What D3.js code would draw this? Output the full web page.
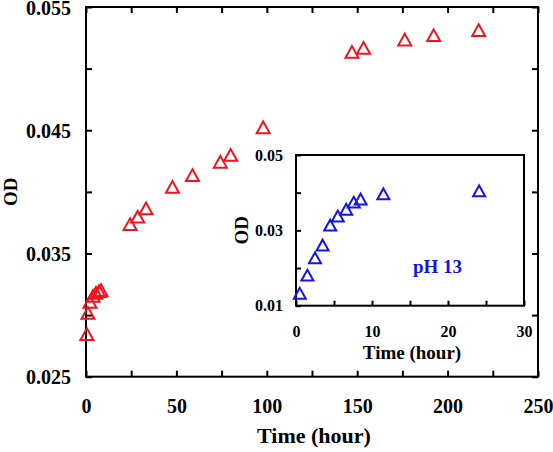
<!DOCTYPE html>
<html>
<head>
<meta charset="utf-8">
<script src="https://cdn.jsdelivr.net/npm/d3@7"></script>
<style>
  html, body { margin: 0; padding: 0; background: #fff; }
  svg text { font-family: "Liberation Serif", "Times New Roman", serif; font-weight: bold; }
</style>
</head>
<body>
<svg id="chart" width="553" height="452"></svg>
<script>
// ---- Data (main plot, red) ----
const mainTime = [0.5, 1.1, 2.2, 3.9, 5.5, 7.2, 8.3, 24.4, 28.6, 33.2, 47.8, 58.9, 74.3, 80.0, 98.0, 147.1, 153.5, 176.3, 192.3, 217.2];
const mainOD   = [0.02846, 0.03017, 0.03106, 0.03155, 0.0318, 0.03195, 0.03203, 0.03738, 0.03798, 0.03866, 0.0404, 0.04136, 0.04244, 0.04300, 0.04524, 0.05136, 0.05168, 0.05236, 0.05271, 0.05312];

// ---- Data (inset, blue, pH 13) ----
const insetTime = [0.5, 1.5, 2.5, 3.5, 4.5, 5.5, 6.6, 7.6, 8.5, 11.5, 24.1];
const insetOD   = [0.0133, 0.0181, 0.0227, 0.0261, 0.0314, 0.0338, 0.0356, 0.0375, 0.0383, 0.0397, 0.0405];

// ---- Ticks ----
const mainXTicks = [0, 25, 50, 75, 100, 125, 150, 175, 200, 225, 250];
const mainXLabels = [0, 50, 100, 150, 200, 250];
const mainYTicks = [0.025, 0.030, 0.035, 0.040, 0.045, 0.050, 0.055];
const mainYLabels = [0.025, 0.035, 0.045, 0.055];
const insetXTicks = [0, 5, 10, 15, 20, 25, 30];
const insetXLabels = [0, 10, 20, 30];
const insetYTicks = [0.01, 0.02, 0.03, 0.04, 0.05];
const insetYLabels = [0.01, 0.03, 0.05];

const RED = "#f0141e";
const BLUE = "#1414e6";

const svg = d3.select("#chart");

function near(arr, v) { return arr.some(a => Math.abs(a - v) < 1e-9); }

function triangle(s) {
  // outline triangle centred on bounding-box centre
  const h = s * 0.9;
  return `M0,${-h/2}L${s/2},${h/2}L${-s/2},${h/2}Z`;
}

function styleAxis(g, fontSize) {
  g.select(".domain").remove();
  g.selectAll(".tick line").attr("stroke", "#000").attr("stroke-width", 2);
  g.selectAll("text").attr("fill", "#000").style("font-size", fontSize + "px");
}

// ===== Main plot =====
const L = 86, R = 538, T = 7, B = 376.7;
const x = d3.scaleLinear().domain([0, 250]).range([L, R]);
const y = d3.scaleLinear().domain([0.025, 0.055]).range([B, T]);

const gb = svg.append("g").attr("transform", `translate(0,${B})`)
  .call(d3.axisBottom(x).tickValues(mainXTicks).tickSize(-6).tickSizeOuter(0).tickPadding(22)
    .tickFormat(d => near(mainXLabels, d) ? d3.format("d")(d) : ""));
styleAxis(gb, 20);
gb.selectAll("text").attr("dy", "0.71em");

const gt = svg.append("g").attr("transform", `translate(0,${T})`)
  .call(d3.axisTop(x).tickValues(mainXTicks).tickSize(-6).tickSizeOuter(0).tickFormat(""));
styleAxis(gt, 20);

const gl = svg.append("g").attr("transform", `translate(${L},0)`)
  .call(d3.axisLeft(y).tickValues(mainYTicks).tickSize(-6).tickSizeOuter(0).tickPadding(15)
    .tickFormat(d => near(mainYLabels, d) ? d3.format(".3f")(d) : ""));
styleAxis(gl, 20);
gl.selectAll("text").attr("dy", "0.36em");

const gr = svg.append("g").attr("transform", `translate(${R},0)`)
  .call(d3.axisRight(y).tickValues(mainYTicks).tickSize(-6).tickSizeOuter(0).tickFormat(""));
styleAxis(gr, 20);

svg.append("rect").attr("x", L).attr("y", T).attr("width", R - L).attr("height", B - T)
  .attr("fill", "none").attr("stroke", "#000").attr("stroke-width", 2);

svg.append("text").attr("x", 314).attr("y", 443).attr("text-anchor", "middle")
  .style("font-size", "22px").text("Time (hour)");
svg.append("text").attr("transform", `translate(17,${(T + B) / 2}) rotate(-90)`)
  .attr("text-anchor", "middle").style("font-size", "19px").text("OD");

svg.append("g").selectAll("path").data(mainTime.map((t, i) => [t, mainOD[i]])).join("path")
  .attr("transform", d => `translate(${x(d[0])},${y(d[1])})`)
  .attr("d", triangle(13))
  .attr("fill", "none").attr("stroke", RED).attr("stroke-width", 2);

// ===== Inset =====
const iL = 296, iR = 524, iT = 155, iB = 305.7;
const xi = d3.scaleLinear().domain([0, 30]).range([iL, iR]);
const yi = d3.scaleLinear().domain([0.01, 0.05]).range([iB, iT]);

svg.append("rect").attr("x", iL).attr("y", iT).attr("width", iR - iL).attr("height", iB - iT)
  .attr("fill", "#fff");

const ib = svg.append("g").attr("transform", `translate(0,${iB})`)
  .call(d3.axisBottom(xi).tickValues(insetXTicks).tickSize(-5).tickSizeOuter(0).tickPadding(20)
    .tickFormat(d => near(insetXLabels, d) ? d3.format("d")(d) : ""));
styleAxis(ib, 16);
ib.selectAll("text").attr("dy", "0").attr("y", 31);

const il = svg.append("g").attr("transform", `translate(${iL},0)`)
  .call(d3.axisLeft(yi).tickValues(insetYTicks).tickSize(-5).tickSizeOuter(0).tickPadding(13)
    .tickFormat(d => near(insetYLabels, d) ? d3.format(".2f")(d) : ""));
styleAxis(il, 16);

svg.append("rect").attr("x", iL).attr("y", iT).attr("width", iR - iL).attr("height", iB - iT)
  .attr("fill", "none").attr("stroke", "#000").attr("stroke-width", 2);

svg.append("text").attr("x", 412).attr("y", 359).attr("text-anchor", "middle")
  .style("font-size", "19px").text("Time (hour)");
svg.append("text").attr("transform", `translate(248,${(iT + iB) / 2}) rotate(-90)`)
  .attr("text-anchor", "middle").style("font-size", "19px").text("OD");
svg.append("text").attr("x", 413).attr("y", 273).attr("fill", BLUE)
  .style("font-size", "19px").text("pH 13");

svg.append("g").selectAll("path").data(insetTime.map((t, i) => [t, insetOD[i]])).join("path")
  .attr("transform", d => `translate(${xi(d[0])},${yi(d[1])})`)
  .attr("d", triangle(12))
  .attr("fill", "none").attr("stroke", BLUE).attr("stroke-width", 2);
</script>
</body>
</html>
